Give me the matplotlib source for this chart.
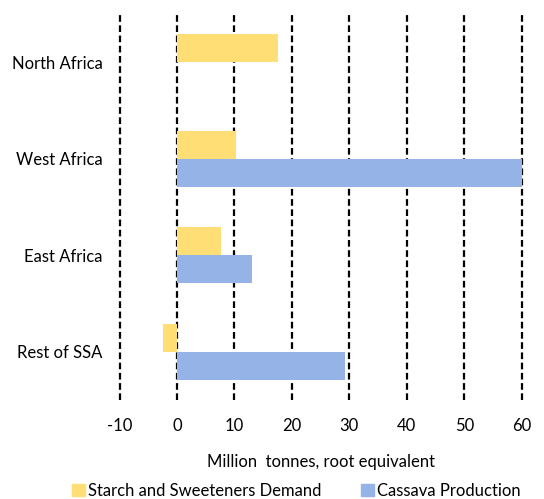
import numpy as np
import matplotlib.pyplot as plt
from matplotlib.patches import Patch

plt.rcParams['font.family'] = ['Lato', 'DejaVu Sans']

regions = ['North Africa', 'West Africa', 'East Africa', 'Rest of SSA']
starch_demand = [17.6, 10.3, 7.6, -2.5]
cassava_prod = [0.0, 60.0, 13.1, 29.2]
xticks = [-10, 0, 10, 20, 30, 40, 50, 60]

c_starch = '#FFDE75'
c_cassava = '#95B3E7'

fig = plt.figure(figsize=(5.44, 4.99), dpi=100)
ax = fig.add_axes([0.2197, 0.198, 0.7393, 0.774])

y = np.arange(len(regions))
h = 0.29
ax.barh(y - h / 2, starch_demand, height=h, color=c_starch,
        edgecolor='none', zorder=3)
ax.barh(y + h / 2, cassava_prod, height=h, color=c_cassava,
        edgecolor='none', zorder=3)

ax.set_xlim(-10, 60)
ax.set_ylim(3.5, -0.5)
ax.set_yticks(y)
ax.set_yticklabels(regions, fontsize=12)
ax.set_xticks(xticks)
ax.set_xticklabels([str(t) for t in xticks], fontsize=12)
ax.tick_params(length=0, axis='y', pad=12)
ax.tick_params(length=0, axis='x', pad=13)
for s in ax.spines.values():
    s.set_visible(False)

# dashed vertical gridlines, drawn unclipped so the edge ones show fully
for t in xticks:
    ax.axvline(t, color='black', linestyle=(0, (3, 1.6)), linewidth=1.6,
               zorder=2, clip_on=False)

ax.set_xlabel('Million  tonnes, root equivalent', fontsize=12, labelpad=14)

handles = [Patch(color=c_starch, label='Starch and Sweeteners Demand'),
           Patch(color=c_cassava, label='Cassava Production')]
fig.legend(handles=handles, loc='lower center', bbox_to_anchor=(0.545, -0.03),
           ncol=2, frameon=False, fontsize=12, handlelength=0.75,
           handleheight=0.75, handletextpad=0.2, columnspacing=2.4)

fig.savefig('out.png', dpi=100)
